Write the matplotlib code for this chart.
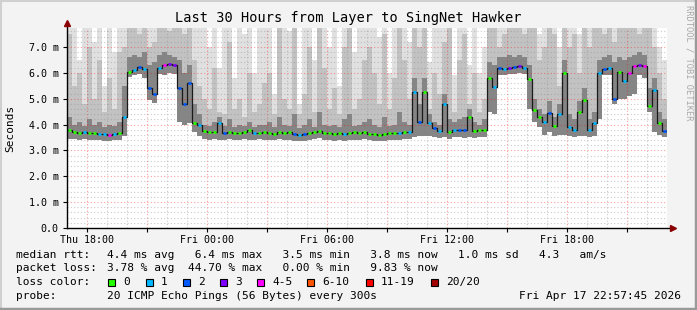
import numpy as np
import matplotlib
matplotlib.use('Agg')
import matplotlib.pyplot as plt
from matplotlib.patches import Rectangle
from matplotlib.lines import Line2D

# 15 minute samples starting Thu 17:00, values in ms
median = [3.80, 3.72, 3.68, 3.70, 3.66, 3.68, 3.65, 3.62, 3.58, 3.62, 3.68,
          4.30,
          6.05, 6.10, 6.22, 6.15, 5.40, 5.20, 6.20, 6.30, 6.35, 6.30,
          5.40, 4.80, 5.60, 4.05, 4.00,
          3.75, 3.72, 3.70, 4.05, 3.68, 3.70, 3.66, 3.68, 3.70, 3.78, 3.66, 3.68, 3.70,
          3.68, 3.65, 3.72, 3.66, 3.70, 3.64, 3.60, 3.62, 3.68, 3.70,
          3.76, 3.68, 3.66, 3.64, 3.68, 3.62, 3.66, 3.70, 3.68, 3.72,
          3.64, 3.62, 3.60, 3.64, 3.66, 3.68, 3.66, 3.70, 3.72, 5.25,
          4.10, 5.25, 4.05, 3.85, 3.75, 4.80, 3.72, 3.78, 3.80, 3.78,
          4.30, 3.75, 3.80, 3.78, 5.80, 5.45, 6.20, 6.15, 6.18, 6.22,
          6.25, 6.20, 5.75, 4.55, 4.30, 4.10, 4.45, 3.95, 4.40, 6.00,
          3.90, 3.80, 4.50, 4.95, 3.78, 4.05, 6.00, 6.15, 6.20, 5.00,
          6.05, 5.70, 6.00, 6.25, 6.30, 6.25, 4.70, 5.35, 4.05, 3.75]

# loss class per sample: 0, 1, 2, 3, 4-5, 6-10, 11-19, 20/20
loss = [0, 0, 0, 1, 0, 0, 1, 1, 4, 1, 0,
        1,
        0, 1, 2, 1, 2, 2, 1, 4, 3, 3,
        2, 2, 2, 0, 1,
        0, 0, 0, 1, 2, 0, 0, 0, 0, 0, 1, 0, 0,
        0, 0, 0, 0, 0, 2, 1, 2, 0, 0,
        0, 0, 0, 0, 0, 1, 0, 0, 0, 0,
        0, 0, 0, 0, 0, 0, 1, 0, 1, 1,
        2, 0, 1, 2, 1, 1, 0, 1, 2, 2,
        0, 0, 0, 0, 0, 1, 2, 1, 3, 2,
        3, 1, 0, 0, 0, 1, 2, 0, 1, 0,
        1, 1, 0, 0, 1, 1, 1, 2, 1, 2,
        0, 1, 4, 4, 3, 4, 0, 1, 0, 2]

smoke_lo = [3.45, 3.45, 3.42, 3.45, 3.40, 3.42, 3.40, 3.38, 3.35, 3.40, 3.42,
            3.55,
            5.85, 5.90, 5.95, 5.80, 4.95, 4.85, 5.95, 5.90, 6.00, 5.95,
            4.10, 4.00, 4.05, 3.70, 3.55,
            3.45, 3.42, 3.45, 3.40, 3.42, 3.45, 3.40, 3.42, 3.45, 3.40, 3.42, 3.45, 3.42,
            3.42, 3.40, 3.45, 3.40, 3.42, 3.38, 3.35, 3.38, 3.42, 3.45,
            3.48, 3.42, 3.40, 3.38, 3.42, 3.35, 3.40, 3.42, 3.42, 3.45,
            3.40, 3.38, 3.35, 3.38, 3.40, 3.42, 3.40, 3.45, 3.45, 3.50,
            3.55, 3.55, 3.55, 3.50, 3.48, 3.50, 3.45, 3.50, 3.50, 3.48,
            3.50, 3.48, 3.50, 3.50, 4.50, 4.40, 5.90, 5.90, 5.95, 5.95,
            6.00, 5.95, 4.60, 4.10, 3.90, 3.60, 3.70, 3.55, 3.60, 3.60,
            3.55, 3.50, 3.55, 3.55, 3.50, 3.55, 4.20, 5.90, 5.90, 4.80,
            5.00, 5.00, 5.10, 5.20, 5.90, 5.80, 4.50, 3.70, 3.60, 3.50]

smoke_p75 = [4.3, 4.0, 4.1, 3.95, 4.2, 4.0, 4.1, 3.9, 4.0, 3.95, 4.1,
             5.5,
             6.6, 6.7, 6.6, 6.8, 6.3, 6.4, 6.7, 6.8, 6.7, 6.6,
             6.5, 6.0, 6.3, 4.8, 4.4,
             4.0, 3.95, 4.1, 4.3, 3.95, 4.2, 3.9, 4.0, 3.95, 4.1, 3.9, 4.0, 4.0,
             4.1, 3.9, 4.3, 4.0, 3.95, 4.4, 3.85, 4.0, 4.2, 3.9,
             4.5, 4.0, 3.95, 4.0, 3.9, 4.2, 4.4, 3.95, 4.0, 4.1,
             4.2, 4.0, 3.9, 4.3, 3.95, 4.0, 4.5, 4.1, 4.0, 5.8,
             4.8, 5.8, 4.4, 4.1, 4.0, 5.2, 4.2, 4.1, 4.2, 4.3,
             4.6, 4.1, 4.0, 4.2, 6.4, 6.3, 6.6, 6.6, 6.7, 6.6,
             6.7, 6.6, 6.3, 5.0, 4.6, 4.4, 4.9, 4.3, 4.8, 6.5,
             4.4, 4.2, 4.9, 5.4, 4.2, 4.5, 6.5, 6.6, 6.7, 6.4,
             6.6, 6.5, 6.6, 6.7, 6.8, 6.7, 5.4, 5.8, 4.5, 4.2]

smoke_p90 = [7.5, 5.5, 6.0, 4.8, 7.0, 5.0, 6.5, 4.5, 5.8, 4.6, 6.8,
             7.0,
             7.8, 8.0, 7.5, 8.0, 7.0, 7.2, 8.0, 8.0, 7.6, 8.0,
             8.0, 7.5, 8.0, 6.5, 5.5,
             5.0, 4.6, 6.2, 4.5, 4.4, 7.2, 4.6, 5.0, 4.3, 6.0, 4.5, 4.8, 5.6,
             6.0, 4.4, 7.8, 5.0, 4.6, 8.0, 4.4, 5.2, 7.0, 4.5,
             8.0, 6.2, 4.6, 5.4, 4.4, 7.0, 8.0, 4.6, 5.0, 6.5,
             7.0, 6.0, 4.8, 7.5, 4.6, 5.8, 8.0, 6.5, 5.0, 8.0,
             7.0, 8.0, 4.6, 6.0, 5.2, 7.2, 8.0, 4.5, 6.5, 7.5,
             4.8, 6.0, 4.5, 5.0, 8.0, 8.0, 7.0, 7.5, 8.0, 7.8,
             8.0, 7.5, 8.0, 8.0, 6.5, 7.0, 8.0, 7.5, 5.5, 8.0,
             7.0, 7.5, 6.0, 8.0, 7.0, 8.0, 8.0, 7.5, 8.0, 7.2,
             8.0, 8.0, 7.8, 8.0, 7.5, 8.0, 8.0, 7.0, 6.0, 5.0]

smoke_max = [8.0, 7.9, 6.5, 8.0, 8.0, 7.2, 8.0, 5.5, 8.0, 6.8, 8.0,
             8.0,
             8.0, 8.0, 8.0, 8.0, 8.0, 8.0, 8.0, 8.0, 8.0, 8.0,
             8.0, 8.0, 8.0, 8.0, 8.0,
             8.0, 7.0, 8.0, 6.2, 8.0, 8.0, 5.8, 8.0, 7.5, 8.0, 6.0, 8.0, 8.0,
             8.0, 5.2, 8.0, 8.0, 7.6, 8.0, 4.8, 8.0, 8.0, 6.5,
             8.0, 8.0, 7.0, 8.0, 5.5, 8.0, 8.0, 6.8, 8.0, 8.0,
             8.0, 8.0, 7.4, 8.0, 6.0, 8.0, 8.0, 8.0, 7.2, 8.0,
             8.0, 8.0, 6.4, 8.0, 8.0, 7.8, 8.0, 5.9, 8.0, 8.0,
             6.3, 8.0, 6.0, 7.0, 8.0, 8.0, 8.0, 8.0, 8.0, 8.0,
             8.0, 8.0, 8.0, 8.0, 7.5, 8.0, 8.0, 8.0, 7.0, 8.0,
             8.0, 8.0, 7.5, 8.0, 8.0, 8.0, 8.0, 8.0, 8.0, 8.0,
             8.0, 8.0, 8.0, 8.0, 8.0, 8.0, 8.0, 8.0, 7.0, 6.5]

loss_labels = ['0', '1', '2', '3', '4-5', '6-10', '11-19', '20/20']
loss_colors = ['#26ff00', '#00b8ff', '#0059ff', '#7e00ff', '#ff00ff',
               '#ff5500', '#ff0000', '#a10000']

tick_hours = [1, 7, 13, 19, 25]
tick_labels = ['Thu 18:00', 'Fri 00:00', 'Fri 06:00', 'Fri 12:00', 'Fri 18:00']
ytick_vals = [0, 1, 2, 3, 4, 5, 6, 7]
ytick_labels = ['0.0', '1.0 m', '2.0 m', '3.0 m', '4.0 m', '5.0 m', '6.0 m', '7.0 m']

W, H = 697, 310
MONO = 'DejaVu Sans Mono'


def fx(x):
    return x / W


def fy(y):
    return 1 - y / H


def draw_smoke(ax, t):
    def ext(a):
        return np.append(a, a[-1])
    lo = ext(smoke_lo)
    ax.fill_between(t, lo, ext(smoke_max), step='post', color='#e0e0e0', lw=0, zorder=1)
    ax.fill_between(t, lo, ext(smoke_p90), step='post', color='#c2c2c2', lw=0, zorder=2)
    ax.fill_between(t, lo, ext(smoke_p75), step='post', color='#858585', lw=0, zorder=3)


def draw_grid(ax):
    red = (1, 0, 0, 0.38)
    gray = (0.55, 0.55, 0.55, 0.45)
    for h in range(0, 31):
        if (h - 1) % 3 == 0:
            ax.axvline(h, color=red, lw=0.8, ls=(0, (1, 2)), zorder=4)
        elif h > 0:
            ax.axvline(h, color=gray, lw=0.8, ls=(0, (1, 2)), zorder=4)
    for k in range(1, 39):
        v = k * 0.2
        if k % 5 == 0:
            ax.axhline(v, color=red, lw=0.8, ls=(0, (1, 2)), zorder=4)
        else:
            ax.axhline(v, color=gray, lw=0.8, ls=(0, (1, 2)), zorder=4)


def draw_legend(fig):
    fs = 8.0
    fig.text(fx(16), fy(255), 'median rtt:', family=MONO, fontsize=fs, va='center')
    fig.text(fx(107), fy(255), '4.4 ms avg   6.4 ms max   3.5 ms min   3.8 ms now   1.0 ms sd   4.3   am/s',
             family=MONO, fontsize=fs, va='center')
    fig.text(fx(16), fy(268), 'packet loss:', family=MONO, fontsize=fs, va='center')
    fig.text(fx(107), fy(268), '3.78 % avg  44.70 % max   0.00 % min   9.83 % now',
             family=MONO, fontsize=fs, va='center')
    fig.text(fx(16), fy(282), 'loss color:', family=MONO, fontsize=fs, va='center')
    box_x = [108, 146, 183, 220, 257, 307, 366, 431]
    for bx, lab, col in zip(box_x, loss_labels, loss_colors):
        fig.patches.append(Rectangle((fx(bx), fy(286)), 7 / W, 7 / H, transform=fig.transFigure,
                                     facecolor=col, edgecolor='black', lw=0.8))
        fig.text(fx(bx + 15), fy(282), lab, family=MONO, fontsize=fs, va='center')
    fig.text(fx(16), fy(296), 'probe:', family=MONO, fontsize=fs, va='center')
    fig.text(fx(107), fy(296), '20 ICMP Echo Pings (56 Bytes) every 300s',
             family=MONO, fontsize=fs, va='center')
    fig.text(fx(681), fy(296), 'Fri Apr 17 22:57:45 2026', family=MONO, fontsize=fs,
             va='center', ha='right')


def main():
    fig = plt.figure(figsize=(W / 100, H / 100), dpi=100)
    fig.patch.set_facecolor('#f3f3f3')
    ax = fig.add_axes([fx(67), fy(228), 600 / W, 200 / H])
    ax.set_facecolor('white')

    n = len(median)
    t = np.arange(n + 1) * 0.25
    draw_smoke(ax, t)
    draw_grid(ax)

    med = np.array(median)
    ax.step(t, np.append(med, med[-1]), where='post', color='#1a1a1a', lw=0.9, zorder=5)
    cols = [loss_colors[k] for k in loss]
    ax.hlines(med, t[:-1] + 0.04, t[1:] - 0.04, colors=cols, lw=2.0, zorder=6)

    ax.set_xlim(0, 30)
    ax.set_ylim(0, 7.734)
    for s in ax.spines.values():
        s.set_visible(False)

    ax.set_yticks(ytick_vals)
    ax.set_yticklabels(ytick_labels, family=MONO, fontsize=7.2)
    ax.set_yticks(np.arange(0.2, 7.7, 0.2), minor=True)
    ax.set_xticks(tick_hours)
    ax.set_xticklabels(tick_labels, family=MONO, fontsize=7.2)
    ax.set_xticks([h for h in range(1, 31, 3)], minor=True)
    ax.tick_params(axis='both', which='major', length=3, width=0.8, color='black', pad=3)
    ax.tick_params(axis='y', which='minor', length=0)
    ax.tick_params(axis='x', which='minor', length=3, width=0.8)
    ax.tick_params(axis='x', which='major', length=3, pad=2)

    # axis lines with arrows
    ax.add_line(Line2D([0, 1.008], [0, 0], transform=ax.transAxes, color='black', lw=1.0, clip_on=False, zorder=7))
    ax.add_line(Line2D([0, 0], [0, 1.025], transform=ax.transAxes, color='black', lw=1.0, clip_on=False, zorder=7))
    ax.plot([1.01], [0], marker='>', ms=4, color='#8b0000', transform=ax.transAxes, clip_on=False, zorder=8)
    ax.plot([0], [1.027], marker='^', ms=4, color='#8b0000', transform=ax.transAxes, clip_on=False, zorder=8)

    fig.text(fx(348), fy(18), 'Last 30 Hours from Layer to SingNet Hawker', family=MONO,
             fontsize=9.8, ha='center', va='center')
    fig.text(fx(10), fy(128), 'Seconds', family=MONO, fontsize=8, rotation=90,
             ha='center', va='center')
    fig.text(fx(689), fy(5), 'RRDTOOL / TOBI OETIKER', family=MONO, fontsize=6.3,
             rotation=270, ha='center', va='top', color='#a8a8a8')

    draw_legend(fig)

    # frame
    fig.add_artist(Line2D([0, 1], [fy(0.5), fy(0.5)], transform=fig.transFigure, color='#d0d0d0', lw=1.5))
    fig.add_artist(Line2D([fx(0.5), fx(0.5)], [0, 1], transform=fig.transFigure, color='#d0d0d0', lw=1.5))
    fig.add_artist(Line2D([0, 1], [fy(309), fy(309)], transform=fig.transFigure, color='#9a9a9a', lw=2.5))
    fig.add_artist(Line2D([fx(696), fx(696)], [0, 1], transform=fig.transFigure, color='#9a9a9a', lw=2.5))

    fig.savefig('out.png', dpi=100, facecolor=fig.get_facecolor())


if __name__ == "__main__":
    main()
